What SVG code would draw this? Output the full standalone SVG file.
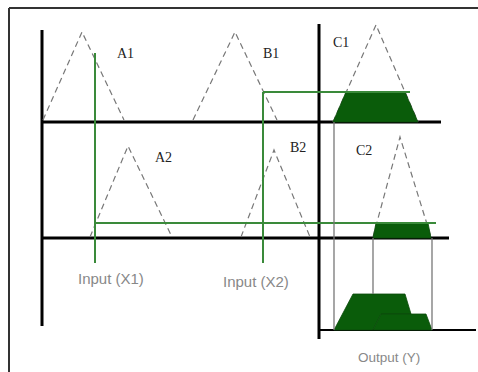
<svg xmlns="http://www.w3.org/2000/svg" width="478" height="372" viewBox="0 0 478 372">
<style>
.axis{stroke:#000;stroke-width:3;fill:none}
.frame{stroke:#333;stroke-width:2;fill:none}
.mf{stroke:#777;stroke-width:1.2;stroke-dasharray:6,4;fill:none}
.cut{stroke:#3a8a3a;stroke-width:2;fill:none}
.proj{stroke:#777;stroke-width:1.3;fill:none}
.fill{fill:#0a5c0a;stroke:#0a4a0a;stroke-width:0.8}
.lbl{font-family:"Liberation Serif",serif;font-size:14px;fill:#222}
.cap{font-family:"Liberation Sans",Arial,sans-serif;font-size:15px;fill:#888}
</style>
<rect width="478" height="372" fill="#fff"/>
<g id="frame">
<line class="frame" x1="9" y1="8" x2="478" y2="8"/>
<line class="frame" x1="9" y1="8" x2="9" y2="372"/>
</g>
<g id="axes">
<line class="axis" x1="42" y1="30" x2="42" y2="326"/>
<line class="axis" x1="42" y1="122" x2="441" y2="122"/>
<line class="axis" x1="42" y1="238" x2="449" y2="238"/>
<line class="axis" x1="319" y1="24" x2="319" y2="339"/>
<line class="axis" x1="319" y1="330" x2="476" y2="330" style="stroke-width:2"/>
</g>
<g id="A1"><polyline class="mf" points="43,120 82,32 124,120"/><text class="lbl" x="117" y="58">A1</text></g>
<g id="B1"><polyline class="mf" points="193,120 235,32 277,120"/><text class="lbl" x="263" y="58">B1</text></g>
<g id="C1"><polyline class="mf" points="333,122 376,25 418,122"/><text class="lbl" x="333" y="47">C1</text>
<polygon class="fill" points="346,92 405,92 418,122 333,122"/></g>
<g id="A2"><polyline class="mf" points="90,237 128,146 172,237"/><text class="lbl" x="155" y="162">A2</text></g>
<g id="B2"><polyline class="mf" points="241,237 274,150 310,237"/><text class="lbl" x="290" y="152">B2</text></g>
<g id="C2"><polyline class="mf" points="373,237 400,137 431,237"/><text class="lbl" x="356" y="155">C2</text>
<polygon class="fill" points="376,223 428,223 431,238 373,238"/></g>
<g id="output">
<polygon class="fill" points="334,330 353,294 405,294 411,314 381,314 373,330"/>
<polygon class="fill" points="373,330 381,314 426,314 432,330"/>
</g>
<g id="connectors">
<line class="cut" x1="95" y1="53" x2="95" y2="263"/>
<line class="cut" x1="95" y1="223" x2="436" y2="223"/>
<line class="cut" x1="263" y1="92" x2="263" y2="263"/>
<line class="cut" x1="263" y1="92" x2="410" y2="92"/>
<line class="proj" x1="334" y1="122" x2="334" y2="330"/>
<line class="proj" x1="373" y1="238" x2="373" y2="294"/>
<line class="proj" x1="432" y1="238" x2="432" y2="330"/>
</g>
<g id="labels">
<text class="cap" x="78" y="284">Input (X1)</text>
<text class="cap" x="223" y="287">Input (X2)</text>
<text class="cap" x="358" y="362" style="font-size:13.5px">Output (Y)</text>
</g>
</svg>
